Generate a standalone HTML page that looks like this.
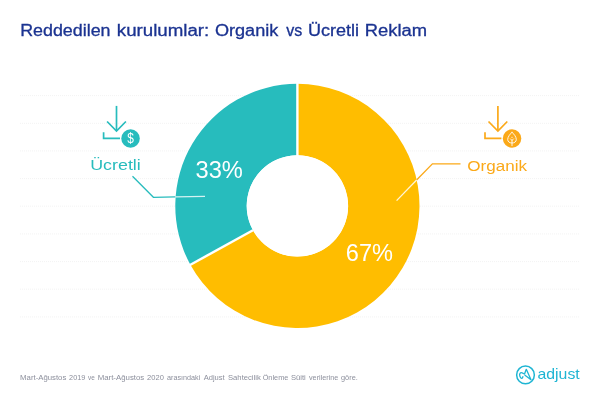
<!DOCTYPE html>
<html lang="tr"><head><meta charset="utf-8"><title>Reddedilen kurulumlar</title>
<style>
html,body{margin:0;padding:0;background:#fff;}
body{width:600px;height:400px;overflow:hidden;}
svg{display:block;font-family:"Liberation Sans",sans-serif;}
</style></head><body>
<svg width="600" height="400" viewBox="0 0 600 400">
<rect width="600" height="400" fill="#fff"/>
<g stroke="#f3f3f3" stroke-width="1" stroke-dasharray="1 1" fill="none">
<line x1="20" y1="95.6" x2="580" y2="95.6"/>
<line x1="20" y1="123.3" x2="580" y2="123.3"/>
<line x1="20" y1="150.9" x2="580" y2="150.9"/>
<line x1="20" y1="178.6" x2="580" y2="178.6"/>
<line x1="20" y1="206.2" x2="580" y2="206.2"/>
<line x1="20" y1="233.9" x2="580" y2="233.9"/>
<line x1="20" y1="261.6" x2="580" y2="261.6"/>
<line x1="20" y1="289.2" x2="580" y2="289.2"/>
<line x1="20" y1="316.9" x2="580" y2="316.9"/>
</g>
<g font-size="16" fill="#1b3391" stroke="#1b3391" stroke-width="0.3"><text x="20.2" y="36.4" textLength="90.3" lengthAdjust="spacingAndGlyphs">Reddedilen</text><text x="116.8" y="36.4" textLength="92.5" lengthAdjust="spacingAndGlyphs">kurulumlar:</text><text x="214.9" y="36.4" textLength="63.4" lengthAdjust="spacingAndGlyphs">Organik</text><text x="286.2" y="36.4" textLength="16" lengthAdjust="spacingAndGlyphs">vs</text><text x="308.0" y="36.4" textLength="51" lengthAdjust="spacingAndGlyphs">Ücretli</text><text x="364.8" y="36.4" textLength="62.3" lengthAdjust="spacingAndGlyphs">Reklam</text></g>
<path d="M297.40,83.80 A122.1,122.1 0 1 1 190.40,264.72 L252.97,230.32 A50.7,50.7 0 1 0 297.40,155.20 Z" fill="#ffbd00"/>
<path d="M190.40,264.72 A122.1,122.1 0 0 1 297.40,83.80 L297.40,155.20 A50.7,50.7 0 0 0 252.97,230.32 Z" fill="#27bcbd"/>
<g stroke="#fff" stroke-width="2.4">
<line x1="297.40" y1="156.20" x2="297.40" y2="82.80"/>
<line x1="252.97" y1="230.32" x2="189.53" y2="265.20"/>
</g>
<circle cx="297.4" cy="205.9" r="50.7" fill="#fff"/>
<!-- leader lines -->
<path d="M132.5,176.3 L153.4,197.3 L175.4,196.9" fill="none" stroke="#27bcbd" stroke-width="1.3"/>
<path d="M175.4,196.9 L205,196.4" fill="none" stroke="#d4f2f2" stroke-width="1.3"/>
<path d="M460.5,163.9 H432.4 L416.6,180" fill="none" stroke="#fba919" stroke-width="1.3"/>
<path d="M416.6,180 L396.6,200.6" fill="none" stroke="#fff6d8" stroke-width="1.3"/>
<text x="195.5" y="178.2" font-size="24" fill="#fff" textLength="47.4" lengthAdjust="spacingAndGlyphs">33%</text>
<text x="345.8" y="260.6" font-size="24" fill="#fff" textLength="47.2" lengthAdjust="spacingAndGlyphs">67%</text>
<text x="90.2" y="170.4" font-size="15.3" fill="#27bcbd" textLength="50.6" lengthAdjust="spacingAndGlyphs">Ücretli</text>
<text x="467.3" y="170.5" font-size="15.3" fill="#fba919" textLength="59.7" lengthAdjust="spacingAndGlyphs">Organik</text>
<g fill="none" stroke="#27bcbd" stroke-width="1.7">
<path d="M116.5,105.9 V131"/>
<path d="M107.1,121.5 L116.5,131 L125.9,121.5"/>
<path d="M103.6,132.2 V138.4 H120.0"/>
</g>
<circle cx="130.55" cy="138.45" r="9.25" fill="#27bcbd"/>
<text transform="translate(130.45,143.0) scale(0.86,1)" font-size="13.8" fill="#fff" text-anchor="middle">$</text>
<g fill="none" stroke="#fba919" stroke-width="1.7">
<path d="M497.9,105.9 V131"/>
<path d="M488.5,121.5 L497.9,131 L507.3,121.5"/>
<path d="M485.0,132.2 V138.4 H501.4"/>
</g>
<circle cx="512.06" cy="138.45" r="9.25" fill="#fba919"/>
<g fill="none" stroke="#fff" stroke-width="0.9" stroke-linecap="round" stroke-linejoin="round">
<path d="M512.0,132.3 C514.2,134.3 516.3,137 516.3,139.5 C516.3,141.7 514.5,143 512.0,143 C509.5,143 507.7,141.7 507.7,139.5 C507.7,137 509.8,134.3 512.0,132.3 Z"/>
<path d="M512.0,137.2 V137.6 M512.0,140.4 V145.7 M510.5,138.9 L512.0,140.4 L513.5,138.9"/>
</g>
<g font-size="6.5" fill="#8c8f9c"><text x="20.1" y="379.5" textLength="46.2" lengthAdjust="spacingAndGlyphs">Mart-Ağustos</text><text x="69.1" y="379.5" textLength="16.2" lengthAdjust="spacingAndGlyphs">2019</text><text x="88.1" y="379.5" textLength="6.8" lengthAdjust="spacingAndGlyphs">ve</text><text x="97.7" y="379.5" textLength="46.6" lengthAdjust="spacingAndGlyphs">Mart-Ağustos</text><text x="147.1" y="379.5" textLength="16.8" lengthAdjust="spacingAndGlyphs">2020</text><text x="167.1" y="379.5" textLength="33.2" lengthAdjust="spacingAndGlyphs">arasındaki</text><text x="203.7" y="379.5" textLength="21.0" lengthAdjust="spacingAndGlyphs">Adjust</text><text x="228.0" y="379.5" textLength="32.8" lengthAdjust="spacingAndGlyphs">Sahtecilik</text><text x="262.7" y="379.5" textLength="25.6" lengthAdjust="spacingAndGlyphs">Önleme</text><text x="291.0" y="379.5" textLength="14.8" lengthAdjust="spacingAndGlyphs">Süiti</text><text x="309.0" y="379.5" textLength="29.3" lengthAdjust="spacingAndGlyphs">verilerine</text><text x="341.0" y="379.5" textLength="16.8" lengthAdjust="spacingAndGlyphs">göre.</text></g>
<circle cx="525.5" cy="374.9" r="8.85" fill="none" stroke="#1fb5d3" stroke-width="1.5"/>
<path d="M522.9,376.6 C522.6,378.9 520.7,378.9 519.9,376.2 C519,373.4 520.3,372.4 522.1,372.8 C523.4,373.2 524.2,374.4 524.7,373.6 L526.3,369.3 L531,379.8 L525,375.2" fill="none" stroke="#1fb5d3" stroke-width="1.3" stroke-linejoin="round" stroke-linecap="round"/>
<text x="537.5" y="379.3" font-size="15" fill="#1fb5d3" textLength="42.2" lengthAdjust="spacingAndGlyphs">adjust</text>
</svg>
</body></html>
